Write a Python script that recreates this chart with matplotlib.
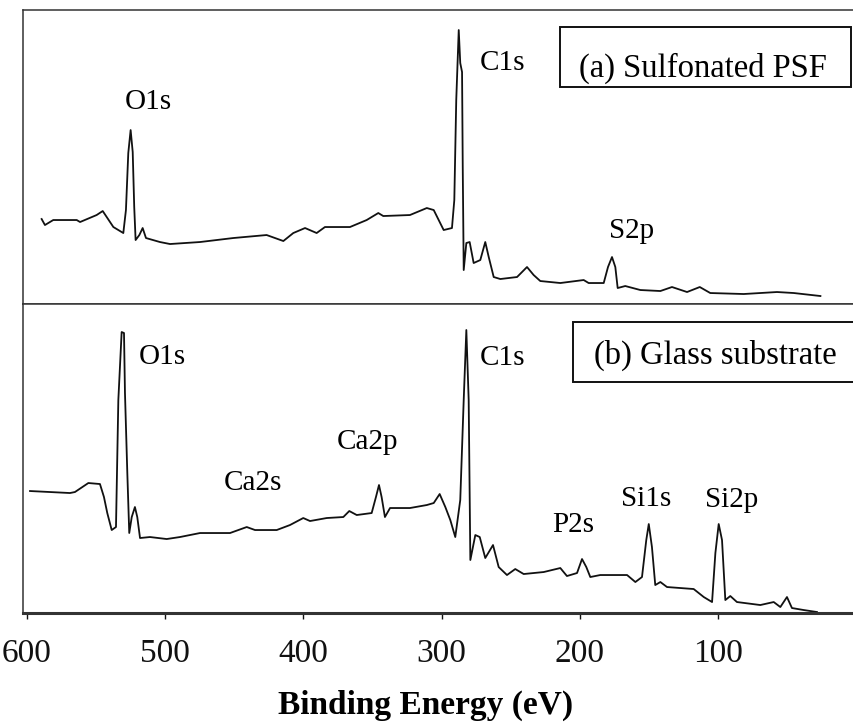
"""
XPS survey spectra: (a) sulfonated PSF film, (b) bare glass substrate.
"""
import numpy as np
import matplotlib
matplotlib.use("Agg")
import matplotlib.pyplot as plt
from matplotlib.patches import Rectangle

plt.rcParams["font.family"] = ["Liberation Serif", "DejaVu Serif"]

# ---- data (binding energy in eV, intensity in arbitrary units) ----
psf_energy = [589.4, 587.0, 581.0, 564.0, 561.6, 549.6, 545.2, 537.5, 530.3, 528.4,
              526.7, 525.0, 523.5, 522.4, 521.4, 518.7, 516.3, 513.9, 503.8, 496.5,
              474.8, 450.7, 426.6, 414.5, 407.3, 398.8, 390.4, 384.4, 366.3, 354.2,
              345.8, 342.2, 322.9, 310.7, 305.7, 298.5, 292.5, 290.8, 289.4, 287.6,
              286.5, 285.2, 284.7, 284.0, 282.1, 279.7, 276.8, 272.0, 268.4, 265.9,
              262.3, 257.5, 245.4, 238.2, 233.4, 228.6, 214.1, 197.2, 193.6, 182.7,
              179.6, 176.7, 174.3, 172.6, 167.1, 156.2, 141.7, 133.3, 122.4, 113.2,
              105.6, 81.4, 57.3, 45.2, 25.9]
psf_counts = [85, 79, 84, 84, 82, 89, 93, 77, 71, 94,
              151, 174, 152, 97, 64, 69, 76, 66, 62, 60,
              62, 66, 69, 63, 71, 76, 71, 77, 77, 84,
              91, 88, 89, 96, 94, 74, 76, 104, 204, 274,
              241, 232, 137, 34, 61, 62, 41, 44, 62, 47,
              27, 25, 27, 37, 29, 23, 21, 24, 21, 21,
              37, 47, 37, 16, 18, 14, 13, 17, 12, 17,
              11, 10, 12, 11, 8]

glass_energy = [597.8, 583.4, 568.9, 565.3, 555.6, 547.2, 544.3, 541.9, 538.7, 535.6,
                533.9, 531.5, 529.8, 529.1, 527.4, 526.0, 524.2, 521.9, 520.2, 518.2,
                511.0, 498.9, 489.3, 474.8, 453.1, 441.0, 435.0, 419.3, 409.7, 400.1,
                395.2, 383.1, 371.1, 366.8, 361.4, 350.6, 347.5, 345.3, 343.4, 341.0,
                337.3, 322.9, 310.7, 305.7, 301.4, 297.3, 293.7, 290.1, 286.5, 284.0,
                282.1, 280.4, 279.2, 275.6, 272.4, 268.4, 262.8, 258.7, 252.7, 246.7,
                240.6, 226.1, 214.1, 209.3, 202.0, 198.4, 195.3, 192.4, 185.2, 165.8,
                159.8, 155.0, 151.9, 150.1, 147.8, 145.4, 141.7, 136.9, 117.6, 110.3,
                104.3, 101.9, 99.5, 97.1, 94.7, 91.1, 86.3, 69.4, 59.7, 54.9,
                50.1, 46.5, 38.0, 28.4]
glass_counts = [122, 121, 120, 121, 130, 129, 116, 100, 83, 86,
                213, 281, 280, 220, 140, 80, 96, 106, 96, 75,
                76, 74, 76, 80, 80, 86, 83, 83, 88, 95,
                92, 95, 96, 102, 98, 100, 116, 128, 116, 96,
                105, 105, 108, 110, 119, 106, 93, 76, 113, 213,
                283, 213, 53, 78, 76, 55, 68, 46, 38, 44,
                39, 41, 45, 37, 40, 54, 46, 36, 38, 38,
                31, 36, 73, 89, 66, 28, 31, 26, 24, 16,
                11, 60, 89, 73, 13, 17, 11, 8, 11, 6,
                16, 5, 3, 1]

psf_peaks = ["O1s", "C1s", "S2p"]
psf_peak_pos = [(512.4, 202), (255.6, 241), (162.9, 73)]
glass_peaks = ["O1s", "Ca2s", "Ca2p", "C1s", "P2s", "Si1s", "Si2p"]
glass_peak_pos = [(502.3, 256), (436.8, 130), (353.3, 171), (255.7, 255),
                  (205.1, 88), (151.8, 114), (89.9, 113)]

xticks = [600, 500, 400, 300, 200, 100]

# ---- figure ----
fig = plt.figure(figsize=(8.54, 7.23), dpi=100)
ax_a = fig.add_axes([0.0269, 0.5795, 0.9731, 0.4066])
ax_b = fig.add_axes([0.0269, 0.1521, 0.9731, 0.4274])

line_kw = dict(color="#111111", linewidth=1.3)
ax_a.plot(psf_energy, psf_counts, **line_kw)
ax_b.plot(glass_energy, glass_counts, **line_kw)

ax_a.set_ylim(0, 294)
ax_b.set_ylim(0, 309)

for ax in (ax_a, ax_b):
    ax.set_xlim(602.9, 1.6)
    ax.set_yticks([])
    ax.spines["right"].set_visible(False)
    for s in ("left", "top", "bottom"):
        ax.spines[s].set_color("#333333")
        ax.spines[s].set_linewidth(1.1)

ax_a.set_xticks([])
ax_b.spines["bottom"].set_linewidth(2.2)
ax_b.set_xticks(xticks)
ax_b.set_xticklabels([str(t) for t in xticks])
ax_b.tick_params(axis="x", direction="out", length=4, width=1.0,
                 labelsize=24, pad=14, colors="#111111")

# peak labels
for name, (e, i) in zip(psf_peaks, psf_peak_pos):
    ax_a.text(e, i, name, ha="center", va="center", fontsize=21)
for name, (e, i) in zip(glass_peaks, glass_peak_pos):
    ax_b.text(e, i, name, ha="center", va="center", fontsize=21)

# sample boxes (axes fraction)
ax_a.add_patch(Rectangle((0.646, 0.738), 0.350, 0.204, transform=ax_a.transAxes,
                         fc="white", ec="#111111", lw=1.4, zorder=3))
ax_a.text(0.818, 0.773, "(a) Sulfonated PSF", transform=ax_a.transAxes,
          ha="center", va="baseline", fontsize=23.5, zorder=4)
ax_b.add_patch(Rectangle((0.662, 0.748), 0.36, 0.194, transform=ax_b.transAxes,
                         fc="white", ec="#111111", lw=1.4, zorder=3, clip_on=False))
ax_b.text(0.833, 0.806, "(b) Glass substrate", transform=ax_b.transAxes,
          ha="center", va="baseline", fontsize=23.5, zorder=4)

fig.text(0.498, 0.013, "Binding Energy (eV)", ha="center", va="baseline",
         fontsize=24, fontweight="bold")

fig.savefig("out.png", dpi=100, facecolor="white")
